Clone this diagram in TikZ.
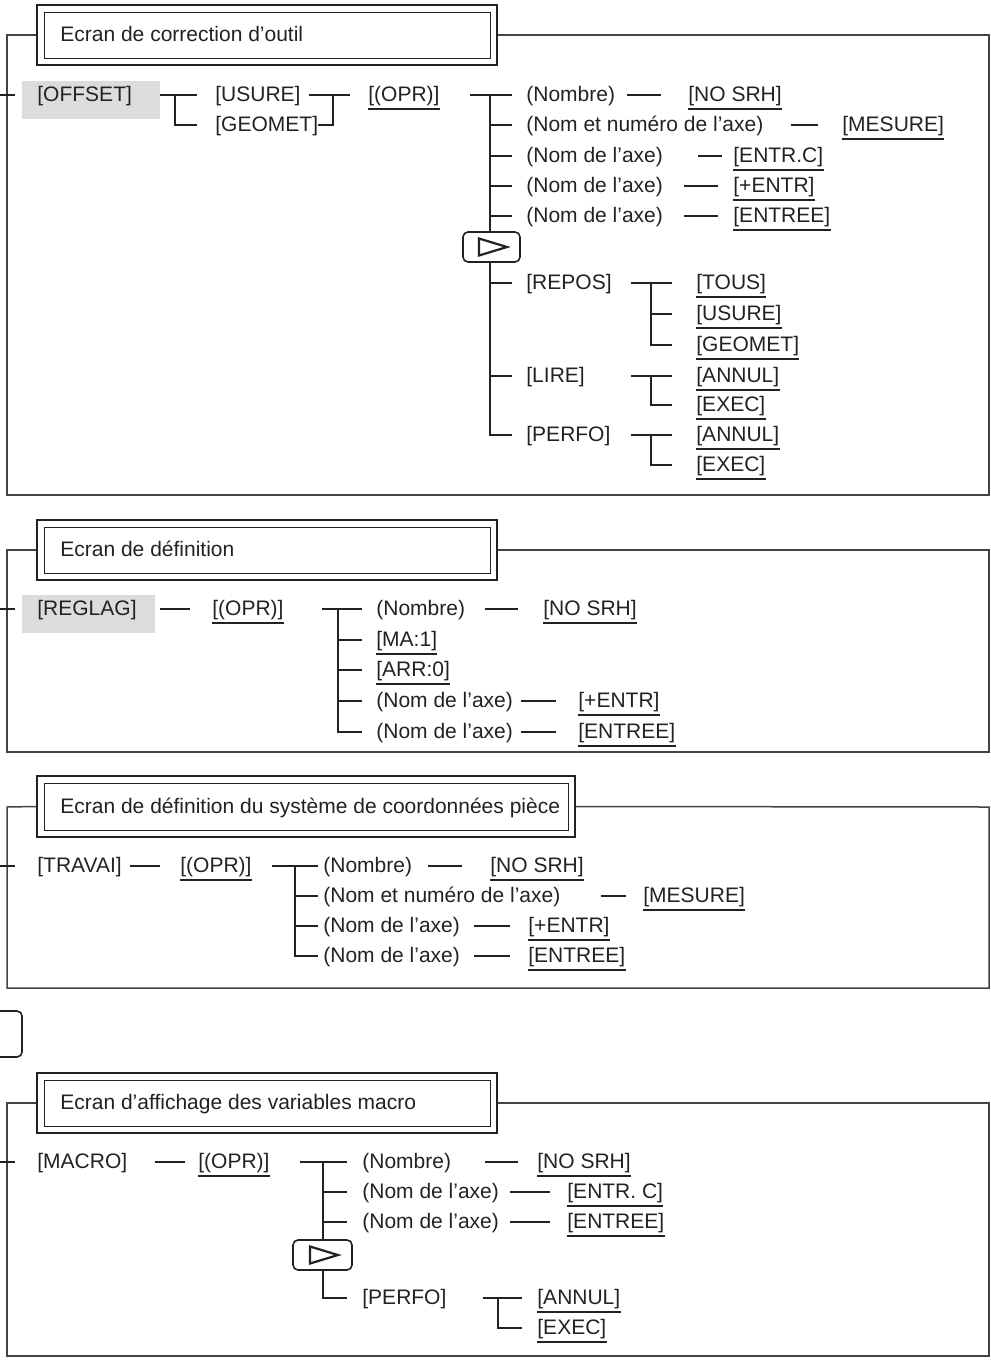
\documentclass[tikz,border=0pt]{standalone}
\usepackage{fontspec}
\setmainfont{Liberation Sans}
\usetikzlibrary{fit,calc}
\definecolor{ink}{HTML}{222222}
\definecolor{keybg}{HTML}{DCDCDC}
\begin{document}
\begin{tikzpicture}[x=0.5pt,y=-0.5pt,
  every node/.style={text=ink},
  lbl/.style={anchor=west,inner sep=0pt,text height=0.80em,text depth=0.15em,font=\fontsize{10.5}{12}\selectfont},
  wire/.style={draw=ink,line width=0.75pt},
  ul/.style={lbl,append after command={([yshift=-2.0pt]\tikzlastnode.south west) edge[wire] ([yshift=-2.0pt]\tikzlastnode.south east)}},
  frame/.style={draw=ink!85,line width=0.75pt},
  tout/.style={draw=ink,line width=1.2pt,fill=white,inner sep=0pt},
  tin/.style={draw=ink,line width=0.5pt,inner sep=0pt},
  keybox/.style={fill=keybg,inner sep=0pt},
  btn/.style={draw=ink,line width=0.8pt,rounded corners=2.5pt,fill=white,inner sep=0pt},
  tri/.style={draw=ink,line width=1.1pt,line join=miter},
]
\useasboundingbox (0,0) rectangle (991,1372);

% ---------- Ecran de correction d'outil ----------
\node[tout,fit={(37,5) (497,65)}] (t1) {};
\node[tin,fit={(44,12) (490,58)}] (t1i) {};
\node[lbl] (t1t) at (60,35) {Ecran de correction d’outil};
\draw[frame] (t1.west) -- (7,35) -- (7,495) -- (989,495) -- (989,35) -- (t1.east);
\coordinate (in1) at (0,95);
\draw[wire] (in1) -- ++(15,0);
\node[keybox,fit={(22,81) (160,119)}] (offbg) {};
\node[lbl] (offset) at (37,95) {[OFFSET]};
\node[lbl] (usure1) at (215,95) {[USURE]};
\node[lbl] (geomet1) at (215,125) {[GEOMET]};
\node[ul] (opr1) at (368,95) {[(OPR)]};
\draw[wire] (offbg.east |- usure1.west) -- ([xshift=-9pt]usure1.west);
\draw[wire] ([xshift=-20pt]usure1.west) |- ([xshift=-9pt]geomet1.west);
\draw[wire] ([xshift=4pt]usure1.east) -- ([xshift=-9pt]opr1.west);
\draw[wire] (geomet1.east) -| ([xshift=-17.5pt]opr1.west);

\node[lbl] (nombre1) at (526,95) {(Nombre)};
\node[lbl] (nn1) at (526,125) {(Nom et numéro de l’axe)};
\node[lbl] (na1a) at (526,156) {(Nom de l’axe)};
\node[lbl] (na1b) at (526,186) {(Nom de l’axe)};
\node[lbl] (na1c) at (526,216) {(Nom de l’axe)};
\node[lbl] (repos1) at (526,283) {[REPOS]};
\node[lbl] (lire1) at (526,376) {[LIRE]};
\node[lbl] (perfo1) at (526,435) {[PERFO]};
\node[ul] (nosrh1) at (688,95) {[NO SRH]};
\node[ul] (mesure1) at (842,125) {[MESURE]};
\node[ul] (entrc1) at (733,156) {[ENTR.C]};
\node[ul] (pentr1) at (733,186) {[+ENTR]};
\node[ul] (entree1) at (733,216) {[ENTREE]};
\node[ul] (tous1) at (696,283) {[TOUS]};
\node[ul] (usure2) at (696,314) {[USURE]};
\node[ul] (geomet2) at (696,345) {[GEOMET]};
\node[ul] (annul1) at (696,376) {[ANNUL]};
\node[ul] (exec1) at (696,405) {[EXEC]};
\node[ul] (annul2) at (696,435) {[ANNUL]};
\node[ul] (exec2) at (696,465) {[EXEC]};

\draw[wire] ([xshift=15pt]opr1.east) -- ([xshift=-7pt]nombre1.west);
\draw[wire] ([xshift=-18pt]nombre1.west) |- ([xshift=-7pt]perfo1.west);
\foreach \n in {nn1,na1a,na1b,na1c,repos1,lire1}
  \draw[wire] ([xshift=-18pt]\n.west) -- ([xshift=-7pt]\n.west);
\node[btn,fit={(463,232) (520,262)}] (b1) {};
\draw[tri] ($(b1.center)+(-12.5,-8.5)$) -- ($(b1.center)+(15.5,0)$) -- ($(b1.center)+(-12.5,8.5)$) -- cycle;

\draw[wire] ([xshift=6pt]nombre1.east) -- ([xshift=-13.5pt]nosrh1.west);
\draw[wire] ([xshift=13.5pt]nn1.east) -- ([xshift=-12pt]mesure1.west);
\draw[wire] ([xshift=17.5pt]na1a.east) -- ([xshift=-5.5pt]entrc1.west);
\draw[wire] ([xshift=10.5pt]na1b.east) -- ([xshift=-7.5pt]pentr1.west);
\draw[wire] ([xshift=10.5pt]na1c.east) -- ([xshift=-7.5pt]entree1.west);

\draw[wire] ([xshift=-32.5pt]tous1.west) -- ([xshift=-12pt]tous1.west);
\draw[wire] ([xshift=-22.5pt]tous1.west) |- ([xshift=-12pt]geomet2.west);
\draw[wire] ([xshift=-22.5pt]usure2.west) -- ([xshift=-12pt]usure2.west);
\draw[wire] ([xshift=-32.5pt]annul1.west) -- ([xshift=-12pt]annul1.west);
\draw[wire] ([xshift=-22.5pt]annul1.west) |- ([xshift=-12pt]exec1.west);
\draw[wire] ([xshift=-32.5pt]annul2.west) -- ([xshift=-12pt]annul2.west);
\draw[wire] ([xshift=-22.5pt]annul2.west) |- ([xshift=-12pt]exec2.west);

% ---------- Ecran de definition ----------
\node[tout,fit={(37,520) (497,580)}] (t2) {};
\node[tin,fit={(44,527) (490,573)}] (t2i) {};
\node[lbl] (t2t) at (60,550) {Ecran de définition};
\draw[frame] (t2.west) -- (7,550) -- (7,752) -- (989,752) -- (989,550) -- (t2.east);
\coordinate (in2) at (0,609);
\draw[wire] (in2) -- ++(15,0);
\node[keybox,fit={(22,595) (155,633)}] (regbg) {};
\node[lbl] (reglag) at (37,609) {[REGLAG]};
\node[ul] (opr2) at (212,609) {[(OPR)]};
\draw[wire] ([xshift=-26pt]opr2.west) -- ([xshift=-11pt]opr2.west);
\node[lbl] (nombre2) at (376,609) {(Nombre)};
\node[ul] (ma2) at (376,640) {[MA:1]};
\node[ul] (arr2) at (376,670) {[ARR:0]};
\node[lbl] (na2a) at (376,701) {(Nom de l’axe)};
\node[lbl] (na2b) at (376,732) {(Nom de l’axe)};
\node[ul] (nosrh2) at (543,609) {[NO SRH]};
\node[ul] (pentr2) at (578,701) {[+ENTR]};
\node[ul] (entree2) at (578,732) {[ENTREE]};
\draw[wire] ([xshift=19pt]opr2.east) -- ([xshift=-7pt]nombre2.west);
\draw[wire] ([xshift=-19pt]nombre2.west) |- ([xshift=-7pt]na2b.west);
\foreach \n in {ma2,arr2,na2a}
  \draw[wire] ([xshift=-19pt]\n.west) -- ([xshift=-7pt]\n.west);
\draw[wire] ([xshift=10pt]nombre2.east) -- ([xshift=-12.5pt]nosrh2.west);
\draw[wire] ([xshift=4pt]na2a.east) -- ([xshift=-11pt]pentr2.west);
\draw[wire] ([xshift=4pt]na2b.east) -- ([xshift=-11pt]entree2.west);

% ---------- Ecran de definition du systeme de coordonnees piece ----------
\node[tout,fit={(37,776) (575,837)}] (t3) {};
\node[tin,fit={(44,783) (568,830)}] (t3i) {};
\node[lbl] (t3t) at (60,807) {Ecran de définition du système de coordonnées pièce};
\draw[frame] (t3.west) -- (7,807) -- (7,988) -- (989,988) -- (989,807) -- (t3.east);
\coordinate (in3) at (0,866);
\draw[wire] (in3) -- ++(15,0);
\node[lbl] (travai) at (37,866) {[TRAVAI]};
\node[ul] (opr3) at (180,866) {[(OPR)]};
\draw[wire] ([xshift=-25pt]opr3.west) -- ([xshift=-10pt]opr3.west);
\node[lbl] (nombre3) at (323,866) {(Nombre)};
\node[lbl] (nn3) at (323,896) {(Nom et numéro de l’axe)};
\node[lbl] (na3a) at (323,926) {(Nom de l’axe)};
\node[lbl] (na3b) at (323,956) {(Nom de l’axe)};
\node[ul] (nosrh3) at (490,866) {[NO SRH]};
\node[ul] (mesure3) at (643,896) {[MESURE]};
\node[ul] (pentr3) at (528,926) {[+ENTR]};
\node[ul] (entree3) at (528,956) {[ENTREE]};
\draw[wire] ([xshift=10pt]opr3.east) -- ([xshift=-2.5pt]nombre3.west);
\draw[wire] ([xshift=-14pt]nombre3.west) |- ([xshift=-2.5pt]na3b.west);
\foreach \n in {nn3,na3a}
  \draw[wire] ([xshift=-14pt]\n.west) -- ([xshift=-2.5pt]\n.west);
\draw[wire] ([xshift=8pt]nombre3.east) -- ([xshift=-14pt]nosrh3.west);
\draw[wire] ([xshift=20pt]nn3.east) -- ([xshift=-8.5pt]mesure3.west);
\draw[wire] ([xshift=7pt]na3a.east) -- ([xshift=-9pt]pentr3.west);
\draw[wire] ([xshift=7pt]na3b.east) -- ([xshift=-9pt]entree3.west);

% ---------- page key at the left edge ----------
\node[btn,fit={(-30,1011) (22,1057)}] (side) {};

% ---------- Ecran d'affichage des variables macro ----------
\node[tout,fit={(37,1073) (497,1133)}] (t4) {};
\node[tin,fit={(44,1080) (490,1126)}] (t4i) {};
\node[lbl] (t4t) at (60,1103) {Ecran d’affichage des variables macro};
\draw[frame] (t4.west) -- (7,1103) -- (7,1356) -- (989,1356) -- (989,1103) -- (t4.east);
\coordinate (in4) at (0,1162);
\draw[wire] (in4) -- ++(15,0);
\node[lbl] (macro) at (37,1162) {[MACRO]};
\node[ul] (opr4) at (198,1162) {[(OPR)]};
\draw[wire] ([xshift=-21.5pt]opr4.west) -- ([xshift=-6.5pt]opr4.west);
\node[lbl] (nombre4) at (362,1162) {(Nombre)};
\node[lbl] (na4a) at (362,1192) {(Nom de l’axe)};
\node[lbl] (na4b) at (362,1222) {(Nom de l’axe)};
\node[lbl] (perfo4) at (362,1298) {[PERFO]};
\node[ul] (nosrh4) at (537,1162) {[NO SRH]};
\node[ul] (entrc4) at (567,1192) {[ENTR. C]};
\node[ul] (entree4) at (567,1222) {[ENTREE]};
\node[ul] (annul4) at (537,1298) {[ANNUL]};
\node[ul] (exec4) at (537,1328) {[EXEC]};
\draw[wire] ([xshift=15pt]opr4.east) -- ([xshift=-7.5pt]nombre4.west);
\draw[wire] ([xshift=-19.5pt]nombre4.west) |- ([xshift=-7.5pt]perfo4.west);
\foreach \n in {na4a,na4b}
  \draw[wire] ([xshift=-19.5pt]\n.west) -- ([xshift=-7.5pt]\n.west);
\node[btn,fit={(293,1240) (352,1270)}] (b4) {};
\draw[tri] ($(b4.center)+(-12.5,-8.5)$) -- ($(b4.center)+(15.5,0)$) -- ($(b4.center)+(-12.5,8.5)$) -- cycle;
\draw[wire] ([xshift=17pt]nombre4.east) -- ([xshift=-9.5pt]nosrh4.west);
\draw[wire] ([xshift=5.5pt]na4a.east) -- ([xshift=-8.5pt]entrc4.west);
\draw[wire] ([xshift=5.5pt]na4b.east) -- ([xshift=-8.5pt]entree4.west);
\draw[wire] ([xshift=-27pt]annul4.west) -- ([xshift=-7.5pt]annul4.west);
\draw[wire] ([xshift=-19.5pt]annul4.west) |- ([xshift=-7.5pt]exec4.west);
\end{tikzpicture}
\end{document}
